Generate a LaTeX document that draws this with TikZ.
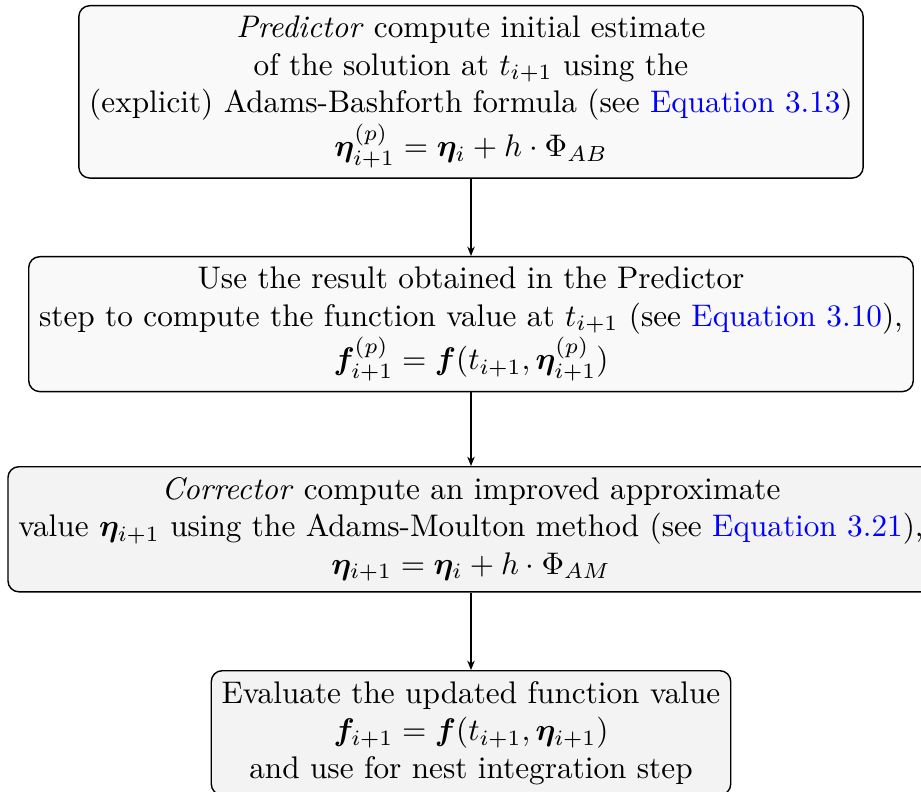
\documentclass[tikz,border=0pt]{standalone}
\usepackage{amsmath,bm}
\usetikzlibrary{arrows.meta}
\definecolor{linkblue}{RGB}{0,0,255}
\definecolor{boxA}{RGB}{249,249,249}
\definecolor{boxB}{RGB}{243,243,243}
\newcommand{\eqlink}[1]{\textcolor{linkblue}{Equation #1}}
\tikzset{
  stepbox/.style={draw=black, rounded corners=3.5pt, align=center, anchor=north, line width=0.45pt},
  flow/.style={-{Stealth[length=3pt,width=2.4pt]}, line width=0.45pt}
}
\begin{document}
\begin{tikzpicture}[x=0.3201pt, y=-0.3201pt]
\useasboundingbox (0,0) rectangle (921,792);
\node[stepbox, fill=boxA] (b1) at (471,5) {\textit{Predictor} compute initial estimate\\
of the solution at $t_{i+1}$ using the\\
(explicit) Adams-Bashforth formula (see \eqlink{3.13})\\
$\bm{\eta}_{i+1}^{(p)} = \bm{\eta}_i + h\cdot\Phi_{AB}$};
\node[stepbox, fill=boxA] (b2) at (471,256) {Use the result obtained in the Predictor\\
step to compute the function value at $t_{i+1}$ (see \eqlink{3.10}),\\
$\bm{f}_{i+1}^{(p)} = \bm{f}(t_{i+1},\bm{\eta}_{i+1}^{(p)})$};
\node[stepbox, fill=boxB] (b3) at (471,466) {\textit{Corrector} compute an improved approximate\\
value $\bm{\eta}_{i+1}$ using the Adams-Moulton method (see \eqlink{3.21}),\\
$\bm{\eta}_{i+1} = \bm{\eta}_i + h\cdot\Phi_{AM}$};
\node[stepbox, fill=boxB] (b4) at (471,670) {Evaluate the updated function value\\
$\bm{f}_{i+1} = \bm{f}(t_{i+1},\bm{\eta}_{i+1})$\\
and use for nest integration step};
\draw[flow] (b1.south) -- (b2.north);
\draw[flow] (b2.south) -- (b3.north);
\draw[flow] (b3.south) -- (b4.north);
\end{tikzpicture}
\end{document}
